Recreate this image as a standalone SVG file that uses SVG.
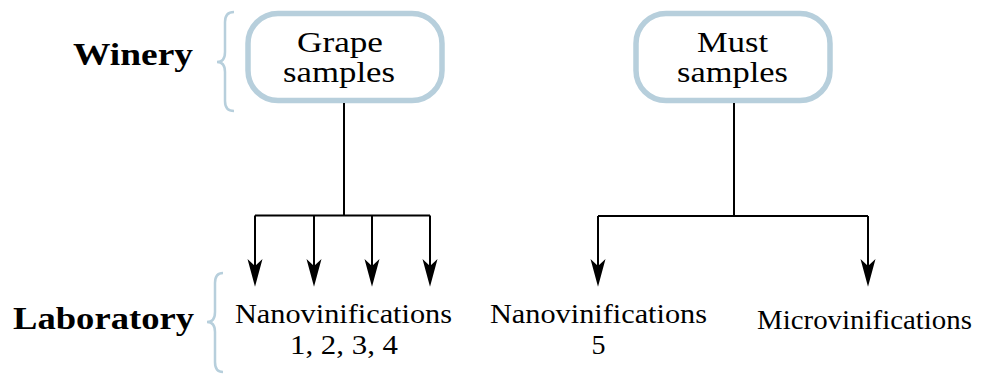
<svg xmlns="http://www.w3.org/2000/svg" width="982" height="374" viewBox="0 0 982 374">
<style>
.box{fill:#ffffff;stroke:#b7cfdc;stroke-width:5.5}
.brace{fill:none;stroke:#b7cfdc;stroke-width:2.5}
.conn{fill:none;stroke:#000;stroke-width:2}
.t{font-family:"Liberation Serif","Times New Roman",serif;fill:#000;text-anchor:middle}
.bt{font-size:29px}
.lt{font-size:28px}
.hd{font-size:31px;font-weight:bold}
</style>
<defs>
<marker id="arr" markerUnits="userSpaceOnUse" markerWidth="30" markerHeight="20" viewBox="-14 -8 26 16" refX="0" refY="0" orient="auto" overflow="visible">
<path d="M11,0 L-13,-6.5 L-7,0 L-13,6.5 Z" fill="#000"/>
</marker>
</defs>
<g id="winery-label">
<text class="t hd" x="133" y="65" textLength="120" lengthAdjust="spacingAndGlyphs">Winery</text>
<path class="brace" d="M234,12 Q225,12 225,22 L225,52 Q225,62 217,62 Q225,62 225,72 L225,101 Q225,111 234,111"/>
</g>
<g id="laboratory-label">
<text class="t hd" x="103.5" y="329" textLength="181" lengthAdjust="spacingAndGlyphs">Laboratory</text>
<path class="brace" d="M223,273 Q215,273 215,283 L215,312 Q215,322 207,322 Q215,322 215,332 L215,362 Q215,372 223,372"/>
</g>
<g id="grape">
<rect class="box" x="248" y="13.5" width="194" height="87" rx="30" ry="30"/>
<text class="t bt" x="340" y="51.5" textLength="86" lengthAdjust="spacingAndGlyphs">Grape</text>
<text class="t bt" x="339" y="82" textLength="112" lengthAdjust="spacingAndGlyphs">samples</text>
</g>
<g id="must">
<rect class="box" x="636" y="13.5" width="194" height="87" rx="30" ry="30"/>
<text class="t bt" x="732.5" y="51.5" textLength="71" lengthAdjust="spacingAndGlyphs">Must</text>
<text class="t bt" x="732.5" y="82" textLength="111" lengthAdjust="spacingAndGlyphs">samples</text>
</g>
<g id="nano14">
<text class="t lt" x="343.5" y="323" textLength="217" lengthAdjust="spacingAndGlyphs">Nanovinifications</text>
<text class="t lt" x="344" y="354" textLength="108" lengthAdjust="spacingAndGlyphs">1, 2, 3, 4</text>
</g>
<g id="nano5">
<text class="t lt" x="598.5" y="323" textLength="217" lengthAdjust="spacingAndGlyphs">Nanovinifications</text>
<text class="t lt" x="598.5" y="354">5</text>
</g>
<g id="micro">
<text class="t lt" x="864.5" y="329" textLength="215" lengthAdjust="spacingAndGlyphs">Microvinifications</text>
</g>
<g id="connectors">
<path class="conn" d="M344,103 L344,215.5 M255,215.5 L430,215.5"/>
<path class="conn" d="M255,215.5 L255,274" marker-end="url(#arr)"/>
<path class="conn" d="M314,215.5 L314,274" marker-end="url(#arr)"/>
<path class="conn" d="M372,215.5 L372,274" marker-end="url(#arr)"/>
<path class="conn" d="M430,215.5 L430,274" marker-end="url(#arr)"/>
<path class="conn" d="M734,103 L734,216 M598,216 L868,216"/>
<path class="conn" d="M598,216 L598,274" marker-end="url(#arr)"/>
<path class="conn" d="M868,216 L868,274" marker-end="url(#arr)"/>
</g>
</svg>
